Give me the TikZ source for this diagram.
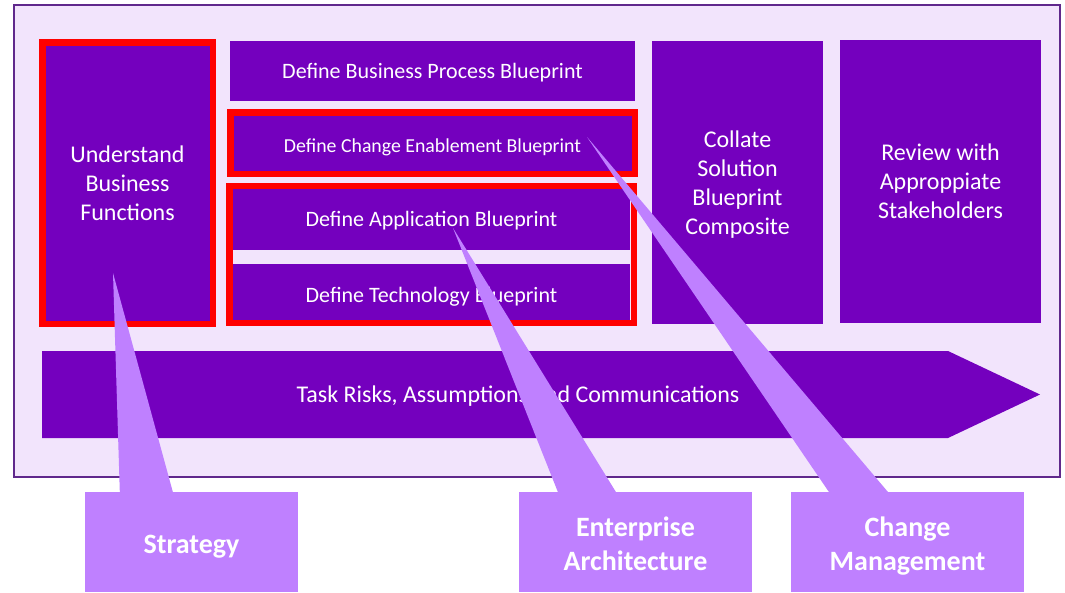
\documentclass[tikz,border=0pt]{standalone}
\usepackage{fontspec}
\setmainfont{Carlito}
\usetikzlibrary{calc}
\definecolor{taskpurple}{RGB}{116,0,190}
\definecolor{panelbg}{RGB}{242,228,252}
\definecolor{calloutpurple}{RGB}{191,128,255}
\definecolor{panelborder}{RGB}{96,40,140}
\definecolor{red}{RGB}{255,0,0}
\newcommand{\headstrut}[1][0.92em]{\rule{0pt}{#1}}

\begin{document}
\begin{tikzpicture}[x=1pt,y=-1pt,
    vcentre/.style={execute at begin node={\headstrut[#1]},execute at end node={\rule[-0.25em]{0pt}{0.25em}}},
    vcentre/.default=0.92em,
    task/.style={fill=taskpurple,text=white,align=center,inner sep=0pt,vcentre,font=\fontsize{24}{29}\selectfont},
    redframe/.style={draw=red,line width=6.5pt},
    callout/.style={fill=calloutpurple,text=white,align=center,inner sep=0pt,minimum height=100pt,vcentre=1.07em,font=\bfseries\fontsize{28}{34.5}\selectfont},
    wedge/.style={fill=calloutpurple}]
    \useasboundingbox (0,0) rectangle (1065,592);

    % Panel
    \node[draw=panelborder,line width=2pt,fill=panelbg,minimum width=1046pt,minimum height=472pt,inner sep=0pt] (panel) at (537,241) {};

    % Tasks
    \node[task,redframe,minimum width=170.5pt,minimum height=281.5pt] (understand) at (127.5,183) {\headstrut Understand\\Business\\Functions};
    \node[task,minimum width=405pt,minimum height=60pt,font=\fontsize{22}{26}\selectfont] (process) at (432.5,71) {Define Business Process Blueprint};
    \node[task,redframe,minimum width=404.5pt,minimum height=61.5pt,vcentre=1.22em,font=\fontsize{19.8}{24}\selectfont] (change) at (432.5,143) {Define Change Enablement Blueprint};
    \node[redframe,minimum width=404.5pt,minimum height=136.5pt,inner sep=0pt] (eagroup) at (431.5,254.5) {};
    \node[task,minimum width=397pt,minimum height=61pt,font=\fontsize{22}{26}\selectfont] (application) at (431.5,219.5) {Define Application Blueprint};
    \node[task,minimum width=397pt,minimum height=56pt,vcentre=1.19em,font=\fontsize{22}{26}\selectfont] (technology) at (431.5,292) {Define Technology Blueprint};
    \node[task,minimum width=171pt,minimum height=283pt] (collate) at (737.5,182.5) {\headstrut Collate\\Solution\\Blueprint\\Composite};
    \node[task,minimum width=201pt,minimum height=283pt] (review) at (940.5,181.5) {\headstrut Review with\\Approppiate\\Stakeholders};

    % Risks arrow
    \fill[taskpurple] (42,351) -- (948,351) -- (1040,394.5) -- (948,438) -- (42,438) -- cycle;
    \node[text=white,inner sep=0pt,vcentre,font=\fontsize{24}{29}\selectfont] (risks) at (518,394.5) {Task Risks, Assumptions and Communications};

    % Callouts
    \coordinate (strategytip) at (113,273);
    \coordinate (eatip) at (453,228);
    \coordinate (changetip) at (587,137);
    \node[callout,minimum width=213pt] (strategy) at (191.5,542) {Strategy};
    \node[callout,minimum width=233pt] (enterprise) at (635.5,542) {\headstrut[1.07em]Enterprise\\Architecture};
    \node[callout,minimum width=233pt] (management) at (907.5,542) {\headstrut[1.07em]Change\\Management};
    \fill[wedge] (strategytip) -- ($(strategy.north west)+(35,0)$) -- ($(strategy.north west)+(88,0)$) -- cycle;
    \fill[wedge] (eatip) -- ($(enterprise.north west)+(39,0)$) -- ($(enterprise.north west)+(97,0)$) -- cycle;
    \fill[wedge] (changetip) -- ($(management.north west)+(38,0)$) -- ($(management.north west)+(97,0)$) -- cycle;
\end{tikzpicture}
\end{document}
